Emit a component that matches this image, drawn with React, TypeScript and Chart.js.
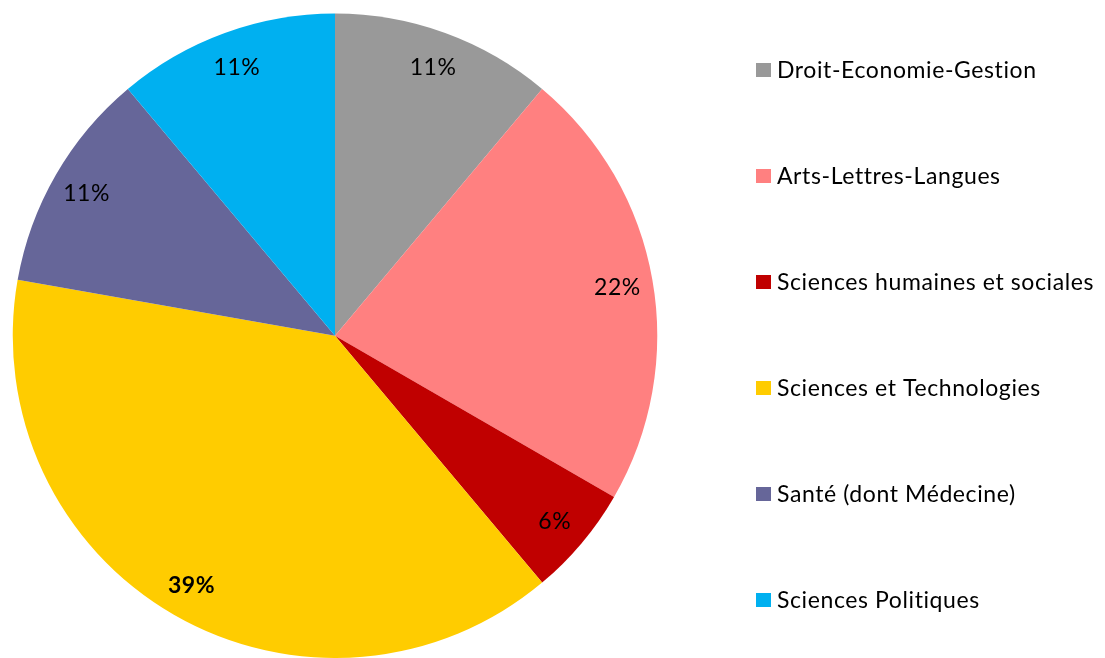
import React, { useEffect, useRef } from "react";
import { Chart, registerables } from "chart.js";

Chart.register(...registerables);

const categories = [
  "Droit-Economie-Gestion",
  "Arts-Lettres-Langues",
  "Sciences humaines et sociales",
  "Sciences et Technologies",
  "Santé (dont Médecine)",
  "Sciences Politiques",
];
const counts = [2, 4, 1, 7, 2, 2];
const colors = ["#999999", "#FF8080", "#C00000", "#FFCC00", "#666699", "#00B0F0"];
const boldLabels = [false, false, false, true, false, false];

const FONT = "Lato, 'Open Sans', sans-serif";
const FONT_SIZE = 23;

function setFont(ctx: any, bold: boolean) {
  ctx.font = (bold ? "bold " : "") + FONT_SIZE + "px " + FONT;
  try {
    ctx.letterSpacing = "0.6px";
  } catch (e) {}
}

const labelPlugin = {
  id: "sliceLabels",
  afterDatasetsDraw(chart: any) {
    const ctx = chart.ctx;
    const meta = chart.getDatasetMeta(0);
    const data = chart.data.datasets[0].data as number[];
    const total = data.reduce((a, b) => a + b, 0);
    ctx.save();
    ctx.textAlign = "center";
    ctx.textBaseline = "alphabetic";
    ctx.fillStyle = "#000000";
    meta.data.forEach((arc: any, i: number) => {
      const { x, y, startAngle, endAngle, outerRadius } = arc.getProps(
        ["x", "y", "startAngle", "endAngle", "outerRadius"],
        true
      );
      const mid = (startAngle + endAngle) / 2;
      const r = outerRadius * 0.89;
      const pct = Math.round((data[i] / total) * 100) + "%";
      setFont(ctx, boldLabels[i]);
      ctx.fillText(pct, x + Math.cos(mid) * r, y + Math.sin(mid) * r + 9);
    });
    ctx.restore();
  },
};

const legendPlugin = {
  id: "customLegend",
  afterDraw(chart: any) {
    const ctx = chart.ctx;
    const labels = chart.data.labels as string[];
    const bg = chart.data.datasets[0].backgroundColor as string[];
    ctx.save();
    ctx.textBaseline = "alphabetic";
    ctx.textAlign = "left";
    labels.forEach((lab, i) => {
      const cy = 70 + i * 106;
      ctx.fillStyle = bg[i];
      ctx.fillRect(756, cy - 7, 15, 14);
      ctx.fillStyle = "#000000";
      setFont(ctx, false);
      ctx.fillText(lab, 777, cy + 8);
    });
    ctx.restore();
  },
};

export default function App() {
  const ref = useRef<HTMLCanvasElement | null>(null);
  useEffect(() => {
    document.body.style.margin = "0";
    const canvas = ref.current!;
    const chart = new Chart(canvas, {
      type: "pie",
      data: {
        labels: categories,
        datasets: [
          {
            data: counts,
            backgroundColor: colors,
            borderWidth: 0,
            clip: false as any,
          },
        ],
      },
      options: {
        responsive: false,
        animation: false,
        layout: { padding: { left: 11, right: 446, top: 13.5, bottom: -3.5 } },
        plugins: {
          legend: { display: false },
          tooltip: { enabled: false },
        },
      },
      plugins: [labelPlugin, legendPlugin],
    });
    return () => chart.destroy();
  }, []);
  return (
    <div style={{ width: 1105, height: 658, background: "#fff" }}>
      <canvas ref={ref} width={1105} height={658} style={{ display: "block" }} />
    </div>
  );
}
